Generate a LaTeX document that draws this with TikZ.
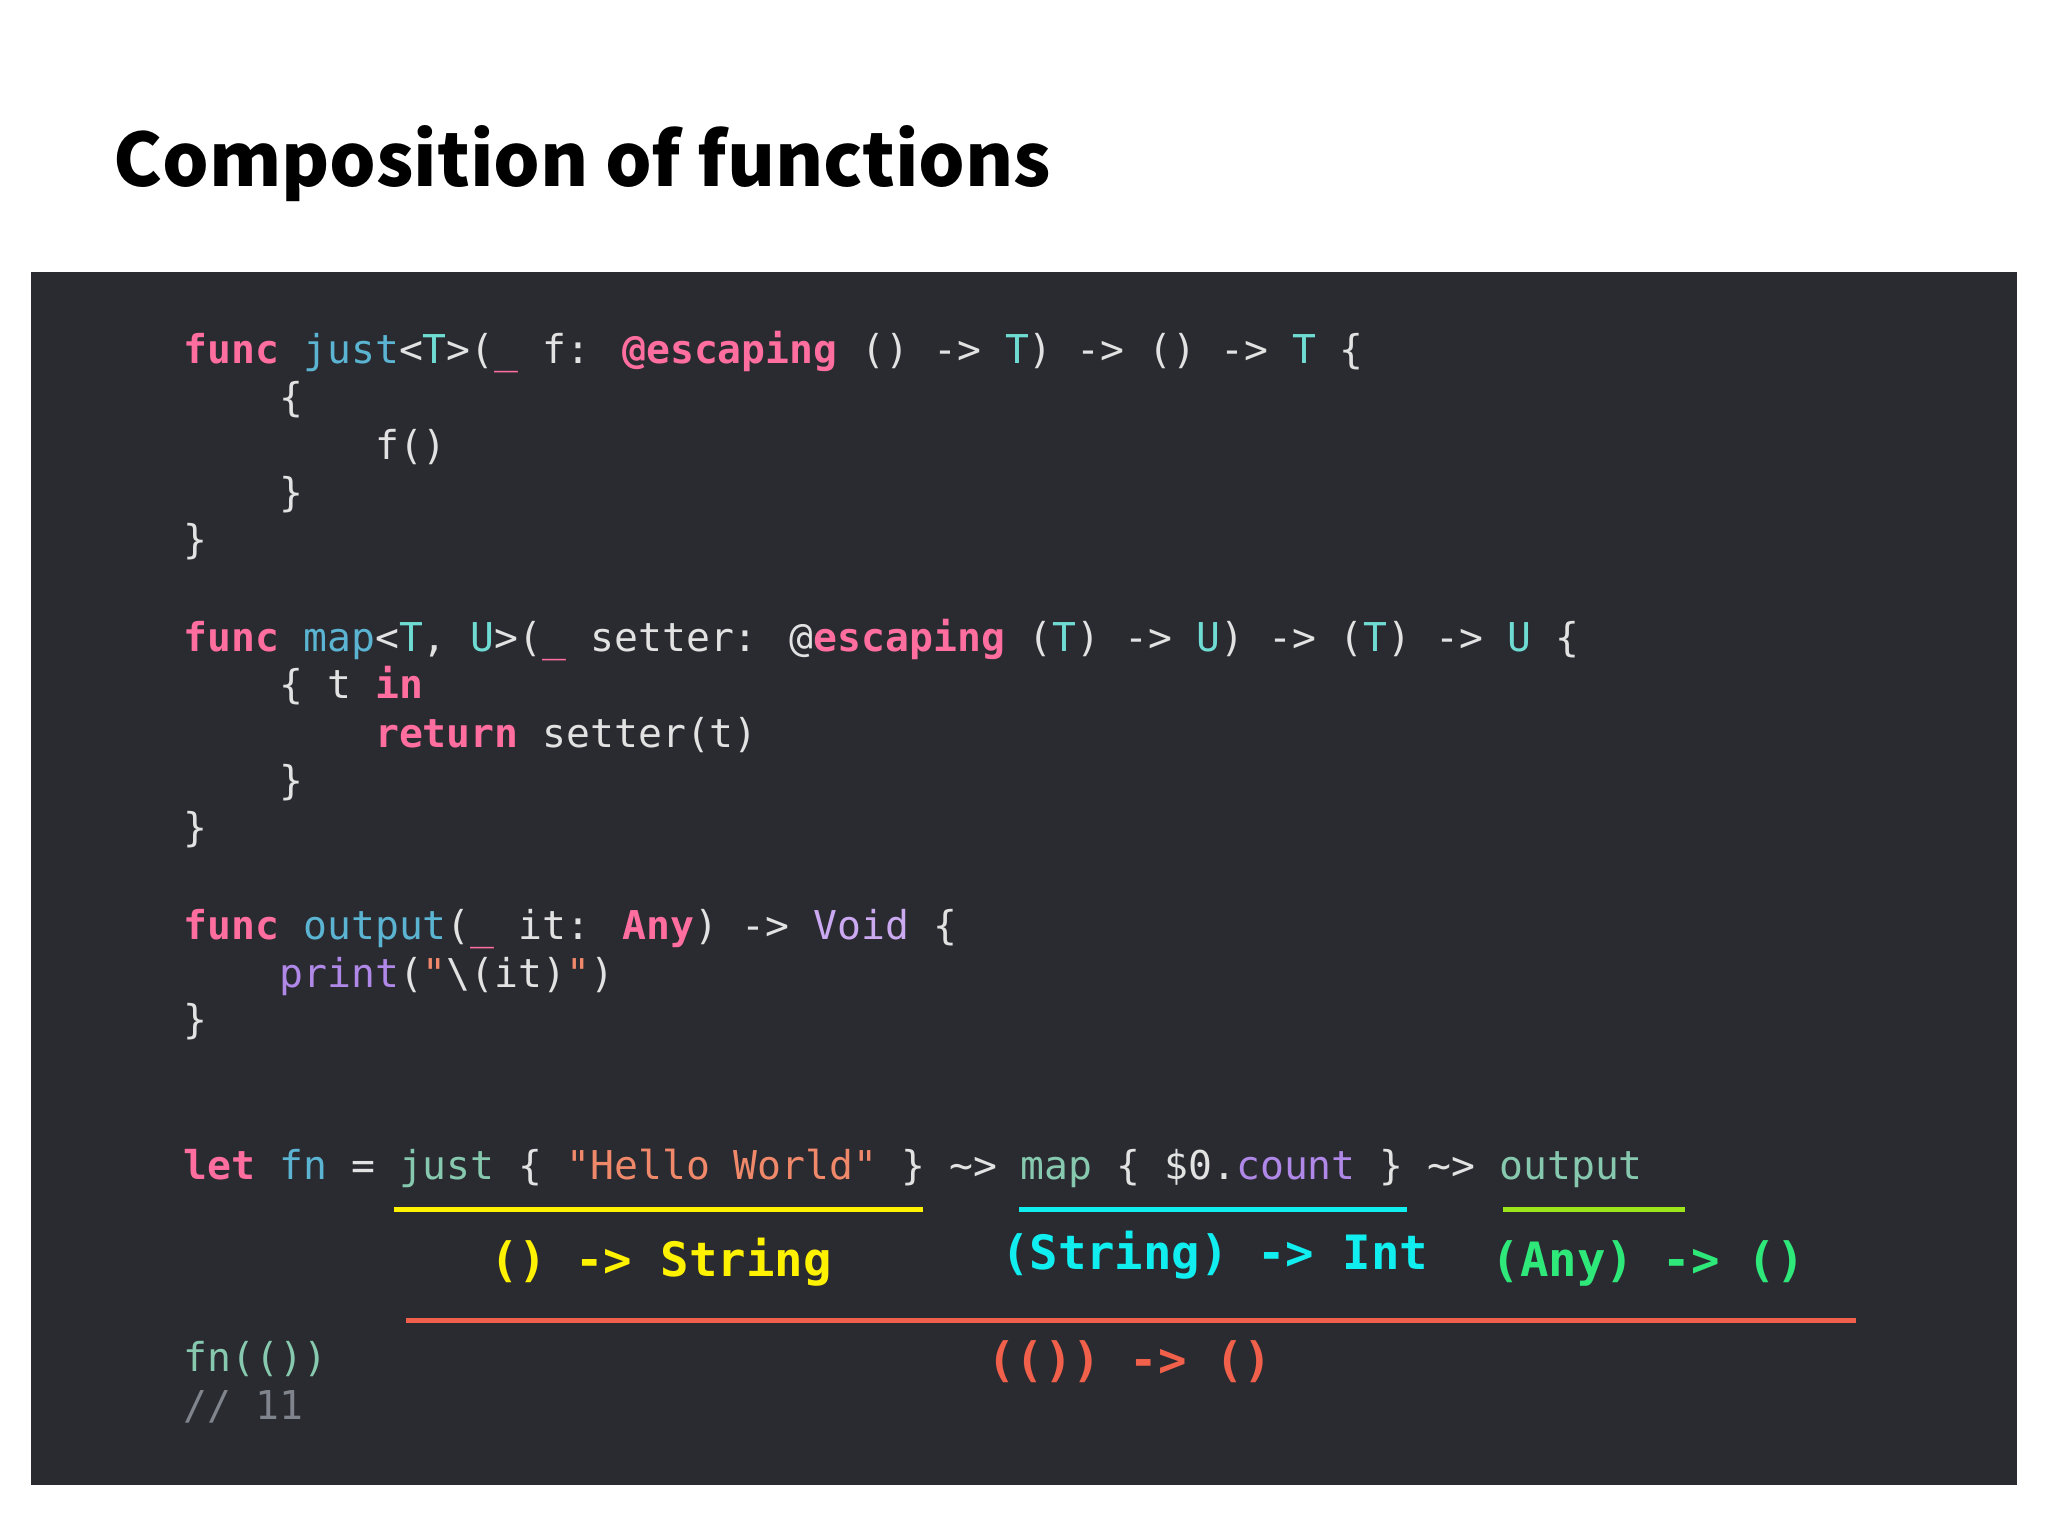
\documentclass[tikz,border=0pt]{standalone}
\usepackage{fontspec}
\newfontfamily\code{DejaVu Sans Mono}
\newfontfamily\titlefont{Noto Sans CJK KR}
\definecolor{bg}{HTML}{2A2A31}
\definecolor{pk}{HTML}{FF6E9E}
\definecolor{bl}{HTML}{5AB4D2}
\definecolor{cy}{HTML}{6EDCD2}
\definecolor{vo}{HTML}{CBAAF2}
\definecolor{pu}{HTML}{B088E8}
\definecolor{st}{HTML}{F0886A}
\definecolor{tx}{HTML}{E2E2E2}
\definecolor{cm}{HTML}{80848C}
\definecolor{tl}{HTML}{86C9AE}
\definecolor{yl}{HTML}{FFF200}
\definecolor{cn}{HTML}{10EEF0}
\definecolor{gr}{HTML}{2EE87A}
\definecolor{lm}{HTML}{9BE51A}
\definecolor{rd}{HTML}{F0604A}
\newcommand{\kw}[1]{\textcolor{pk}{\bfseries #1}}
\newcommand{\fnm}[1]{\textcolor{bl}{#1}}
\newcommand{\ty}[1]{\textcolor{cy}{#1}}
\tikzset{
 ln/.style={anchor=base west,inner sep=0pt,text=tx,font=\code\fontsize{8.65}{10}\selectfont},
 lab/.style={anchor=base,inner sep=0pt,font=\code\bfseries\fontsize{10.3}{12}\selectfont},
 ul/.style={line width=0.9pt}
}
\begin{document}
\begin{tikzpicture}[x=0.01cm,y=-0.01cm]
\useasboundingbox (0,0) rectangle (1568,1176);
\fill[white] (0,0) rectangle (1568,1176);
\fill[bg] (24,208) rectangle (1544,1137);
\node[anchor=base west,inner sep=0pt,font=\titlefont\bfseries\fontsize{16}{20}\selectfont] (title) at (86,143) {Composition of functions};
% block 1
\node[ln] (a1) at (140,278) {\kw{func} \fnm{just}<\ty{T}>(\textcolor{pk}{\_} f: \kw{@escaping} () -> \ty{T}) -> () -> \ty{T} \{};
\node[ln] (a2) at (140,315) {\ \ \ \ \{};
\node[ln] (a3) at (140,352) {\ \ \ \ \ \ \ \ f()};
\node[ln] (a4) at (140,388) {\ \ \ \ \}};
\node[ln] (a5) at (140,424) {\}};
% block 2
\node[ln] (b1) at (140,499) {\kw{func} \fnm{map}<\ty{T}, \ty{U}>(\textcolor{pk}{\_} setter: @\kw{escaping} (\ty{T}) -> \ty{U}) -> (\ty{T}) -> \ty{U} \{};
\node[ln] (b2) at (140,535) {\ \ \ \ \{ t \kw{in}};
\node[ln] (b3) at (140,572) {\ \ \ \ \ \ \ \ \kw{return} setter(t)};
\node[ln] (b4) at (140,608) {\ \ \ \ \}};
\node[ln] (b5) at (140,644) {\}};
% block 3
\node[ln] (c1) at (140,719) {\kw{func} \fnm{output}(\textcolor{pk}{\_} it: \kw{Any}) -> \textcolor{vo}{Void} \{};
\node[ln] (c2) at (140,756) {\ \ \ \ \textcolor{pu}{print}(\textcolor{st}{"}\textbackslash(it)\textcolor{st}{"})};
\node[ln] (c3) at (140,791) {\}};
% let line
\node[ln] (d1) at (140,903) {\kw{let} \fnm{fn} = \textcolor{tl}{just} \{ \textcolor{st}{"Hello World"} \} \textasciitilde> \textcolor{tl}{map} \{ \$0.\textcolor{pu}{count} \} \textasciitilde> \textcolor{tl}{output}};
\node[ln,text=tl] (e1) at (140,1050) {fn(())};
\node[ln,text=cm] (e2) at (140,1087) {// 11};
% underlines
\coordinate (y1) at (302,926); \coordinate (y2) at (707,926);
\coordinate (c1a) at (780,926); \coordinate (c2a) at (1077,926);
\coordinate (g1) at (1151,926); \coordinate (g2) at (1290,926);
\coordinate (r1) at (311,1011); \coordinate (r2) at (1421,1011);
\draw[ul,yl] (y1) -- (y2);
\draw[ul,cn] (c1a) -- (c2a);
\draw[ul,lm] (g1) -- (g2);
\draw[ul,rd] (r1) -- (r2);
\node[lab,text=yl] (ly) at (506,977) {() -> String};
\node[lab,text=cn] (lc) at (930,972) {(String) -> Int};
\node[lab,text=gr] (lg) at (1262,977) {(Any) -> ()};
\node[lab,text=rd] (lr) at (865,1054) {(()) -> ()};
\end{tikzpicture}
\end{document}
